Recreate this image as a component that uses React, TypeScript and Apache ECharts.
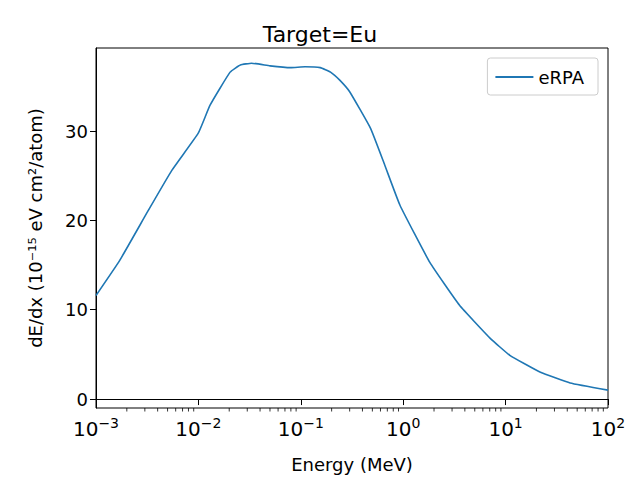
import React, { useEffect, useRef } from 'react';
import * as echarts from 'echarts';

const energy = [0.001, 0.0017, 0.0032, 0.0055, 0.01, 0.013, 0.0204, 0.0257, 0.0331, 0.05, 0.0794, 0.11, 0.155, 0.195, 0.24, 0.30, 0.48, 0.66, 0.93, 1.82, 3.55, 7.08, 11.0, 21.9, 42.7, 100];
const dedx = [11.6, 15.5, 21.0, 25.6, 29.8, 32.9, 36.6, 37.4, 37.6, 37.3, 37.1, 37.2, 37.1, 36.6, 35.7, 34.4, 30.3, 26.2, 21.7, 15.3, 10.5, 6.8, 4.9, 3.0, 1.8, 1.0];
const yTicks = [0, 10, 20, 30];
const minorTicks: number[] = [];
for (let e = -3; e < 2; e++) for (let m = 2; m <= 9; m++) minorTicks.push(m * Math.pow(10, e));

const font = 'DejaVu Sans';

export default function App() {
  const ref = useRef<HTMLDivElement>(null);

  useEffect(() => {
    document.body.style.margin = '0';
    if (!ref.current) return;
    const chart = echarts.init(ref.current, null, { renderer: 'svg' });
    chart.setOption({
      animation: false,
      textStyle: { fontFamily: font },
      title: {
        text: 'Target=Eu', left: 'center', top: 18,
        textStyle: { fontFamily: font, fontSize: 22, fontWeight: 'normal', color: '#000' },
      },
      legend: {
        right: 42, top: 58, padding: [10, 14, 9, 8], borderColor: '#ccc', borderWidth: 1, borderRadius: 3,
        itemWidth: 38, itemHeight: 2, itemGap: 10,
        textStyle: { fontFamily: font, fontSize: 18, color: '#000' },
        data: [{ name: 'eRPA', icon: 'rect' }],
      },
      grid: { left: 96, top: 48, width: 512, height: 360, show: true, borderColor: '#000', borderWidth: 1, backgroundColor: 'transparent' },
      xAxis: {
        type: 'log', logBase: 10, min: 0.001, max: 100, splitNumber: 5,
        name: 'Energy (MeV)', nameLocation: 'middle', nameGap: 47,
        nameTextStyle: { fontFamily: font, fontSize: 18, color: '#000' },
        axisLine: { lineStyle: { color: '#000' } },
        axisTick: { length: 6, lineStyle: { color: '#000' } },
        splitLine: { show: false },
        axisLabel: {
          margin: 8,
          formatter: (v: number) => `{b|10}{s|${Math.round(Math.log10(v)).toString().replace('-', '−')}}`,
          rich: {
            b: { fontFamily: font, fontSize: 20, color: '#000' },
            s: { fontFamily: font, fontSize: 14, color: '#000', verticalAlign: 'top', padding: [0, 0, 12, 0] },
          },
        },
      },
      yAxis: {
        type: 'value', min: -1, max: 39.3,
        name: 'dE/dx (10⁻¹⁵ eV cm²/atom)', nameLocation: 'middle', nameGap: 52,
        nameTextStyle: { fontFamily: font, fontSize: 18, color: '#000' },
        axisLine: { show: true, lineStyle: { color: '#000' } },
        axisTick: { show: true, length: 6, customValues: yTicks, lineStyle: { color: '#000' } },
        axisLabel: { customValues: yTicks, fontFamily: font, fontSize: 18, color: '#000', margin: 8 },
        splitLine: { show: false },
      },
      series: [
        {
          name: 'eRPA', type: 'line', data: energy.map((e, i) => [e, dedx[i]]),
          showSymbol: false, smooth: 0.12, lineStyle: { color: '#1f77b4', width: 1.6 }, itemStyle: { color: '#1f77b4' },
        },
        {
          type: 'custom', silent: true, clip: false, data: minorTicks.map(v => [v]),
          renderItem: (_p: any, api: any) => {
            const pt = api.coord([api.value(0), -1]);
            return { type: 'line', shape: { x1: pt[0], y1: pt[1], x2: pt[0], y2: pt[1] + 3.5 }, style: { stroke: '#000', lineWidth: 0.8 } };
          },
        },
      ],
    });
    return () => chart.dispose();
  }, []);

  return <div ref={ref} style={{ width: 640, height: 480 }} />;
}
